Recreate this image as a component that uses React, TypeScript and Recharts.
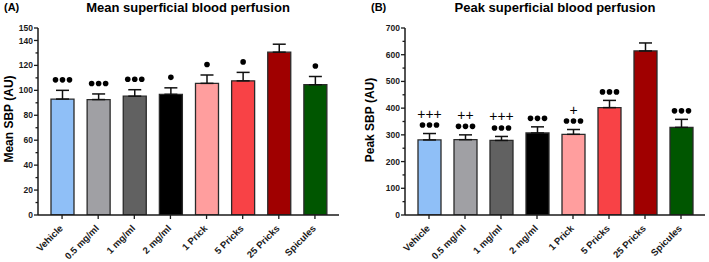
import React from 'react';
import { BarChart, Bar, XAxis, YAxis, ErrorBar, Cell, LabelList } from 'recharts';

const categories = ['Vehicle', '0.5 mg/ml', '1 mg/ml', '2 mg/ml', '1 Prick', '5 Pricks', '25 Pricks', 'Spicules'];
const barColors = ['#8fbff7', '#a0a0a4', '#616161', '#000000', '#ff9e9e', '#f84246', '#a00000', '#005600'];

const meanSBP = [93, 92.6, 95.3, 96.8, 105.6, 107.6, 130.6, 104.5];
const meanSEM = [7, 4.5, 5.2, 5.2, 6.7, 6.8, 6.4, 6.6];
const meanDots = [3, 3, 3, 1, 1, 1, 0, 1];

const peakSBP = [281, 282, 279, 307, 302, 402, 614, 328];
const peakSEM = [24, 18, 15, 23, 18, 27, 30, 30];
const peakDots = [3, 3, 3, 3, 3, 3, 0, 3];
const peakPlus = ['+++', '++', '+++', '', '+', '', '', ''];

const meanTicks = [0, 10, 20, 30, 40, 50, 60, 70, 80, 90, 100, 110, 120, 130, 140, 150];
const meanMajor = [0, 20, 40, 60, 80, 100, 120, 140, 150];
const peakTicks = [0, 50, 100, 150, 200, 250, 300, 350, 400, 450, 500, 550, 600, 650, 700];
const peakMajor = [0, 100, 200, 300, 400, 500, 600, 700];

const FONT = '"Liberation Sans", Arial, Helvetica, sans-serif';
const INK = '#1a1a1a';

const meanData = categories.map((name, i) => ({ name, value: meanSBP[i], err: [0, meanSEM[i]], idx: i }));
const peakData = categories.map((name, i) => ({ name, value: peakSBP[i], err: [0, peakSEM[i]], idx: i }));

const makeYTick = (major: number[]) => (props: any) => {
  const { x, y, payload } = props;
  const v = payload.value;
  const isMajor = major.includes(v);
  return (
    <g>
      <line x1={x - (isMajor ? 4 : 2.5)} x2={x} y1={y} y2={y} stroke={INK} strokeWidth={1.3} />
      {isMajor && (
        <text x={x - 5} y={y} dy="0.36em" textAnchor="end" fontFamily={FONT} fontWeight="bold" fontSize={8.5} fill={INK}>
          {v}
        </text>
      )}
    </g>
  );
};

const XTick = (props: any) => {
  const { x, y, payload } = props;
  const ax = x + 1.5;
  const ay = y + 14;
  return (
    <g>
      <line x1={x} x2={x} y1={y} y2={y + 4} stroke={INK} strokeWidth={1.3} />
      <text
        x={ax}
        y={ay}
        textAnchor="end"
        transform={`rotate(-45, ${ax}, ${ay})`}
        fontFamily={FONT}
        fontWeight="bold"
        fontSize={9.5}
        fill={INK}
      >
        {payload.value}
      </text>
    </g>
  );
};

const makeAnno = (vals: number[], sems: number[], dots: number[], plus: string[] | null, gap: number) => (props: any) => {
  const { x, y, width, height, value } = props;
  const i = Number(value);
  const scale = height / vals[i];
  const errTop = y - sems[i] * scale;
  const cx = x + width / 2;
  const n = dots[i];
  const dotY = errTop - gap;
  const circles = [];
  for (let k = 0; k < n; k++) {
    circles.push(<circle key={k} cx={cx + (k - (n - 1) / 2) * 7} cy={dotY} r={2.8} fill="#000" />);
  }
  const p = plus ? plus[i] : '';
  return (
    <g>
      {circles}
      {p && (
        <text x={cx} y={dotY - 11.5 + 5} textAnchor="middle" fontFamily={FONT} fontSize={14} fill="#000">
          {p}
        </text>
      )}
    </g>
  );
};

const Panel = (props: {
  data: any[];
  width: number;
  yWidth: number;
  rightMargin: number;
  domainMax: number;
  ticks: number[];
  major: number[];
  anno: any;
}) => (
  <BarChart
    width={props.width}
    height={262}
    data={props.data}
    margin={{ top: 28, right: props.rightMargin, bottom: 0, left: 0 }}
    barCategoryGap={0}
  >
    <XAxis
      dataKey="name"
      interval={0}
      height={47}
      padding={{ left: 6, right: 6 }}
      tickLine={false}
      tickSize={0}
      tickMargin={0}
      axisLine={{ stroke: INK, strokeWidth: 1.5 }}
      tick={<XTick />}
    />
    <YAxis
      width={props.yWidth}
      domain={[0, props.domainMax]}
      ticks={props.ticks}
      interval={0}
      allowDataOverflow
      tickLine={false}
      tickSize={0}
      tickMargin={0}
      axisLine={{ stroke: INK, strokeWidth: 1.5 }}
      tick={makeYTick(props.major)}
    />
    <Bar dataKey="value" barSize={23} stroke="#2a2a2a" strokeWidth={1.3} isAnimationActive={false}>
      {props.data.map((d, i) => (
        <Cell key={i} fill={barColors[i]} />
      ))}
      <ErrorBar dataKey="err" width={6.5} stroke="#111" strokeWidth={1.5} direction="y" isAnimationActive={false} />
      <LabelList dataKey="idx" content={props.anno} />
    </Bar>
  </BarChart>
);

const textBase: React.CSSProperties = {
  position: 'absolute',
  fontFamily: FONT,
  fontWeight: 'bold',
  color: '#000',
  whiteSpace: 'nowrap',
  lineHeight: 1,
};

export default function App() {
  return (
    <div style={{ position: 'absolute', left: 0, top: 0, width: 709, height: 262, background: '#fff', overflow: 'hidden' }}>
      <div style={{ position: 'absolute', left: 0, top: 0 }}>
        <Panel
          data={meanData}
          width={355}
          yWidth={38}
          rightMargin={16}
          domainMax={150}
          ticks={meanTicks}
          major={meanMajor}
          anno={makeAnno(meanSBP, meanSEM, meanDots, null, 10.5)}
        />
      </div>
      <div style={{ position: 'absolute', left: 355, top: 0 }}>
        <Panel
          data={peakData}
          width={354}
          yWidth={50}
          rightMargin={4}
          domainMax={700}
          ticks={peakTicks}
          major={peakMajor}
          anno={makeAnno(peakSBP, peakSEM, peakDots, peakPlus, 8.5)}
        />
      </div>
      <div style={{ ...textBase, left: 4, top: 2, fontSize: 11 }}>(A)</div>
      <div style={{ ...textBase, left: 371, top: 2, fontSize: 11 }}>(B)</div>
      <div style={{ ...textBase, left: 188, top: 1, fontSize: 13, transform: 'translateX(-50%)' }}>Mean superficial blood perfusion</div>
      <div style={{ ...textBase, left: 555, top: 1, fontSize: 13, transform: 'translateX(-50%)' }}>Peak superficial blood perfusion</div>
      <div style={{ ...textBase, left: 8.5, top: 119, fontSize: 12, transform: 'translate(-50%, -50%) rotate(-90deg)' }}>Mean SBP (AU)</div>
      <div style={{ ...textBase, left: 370, top: 119.5, fontSize: 12, transform: 'translate(-50%, -50%) rotate(-90deg)' }}>Peak SBP (AU)</div>
    </div>
  );
}
